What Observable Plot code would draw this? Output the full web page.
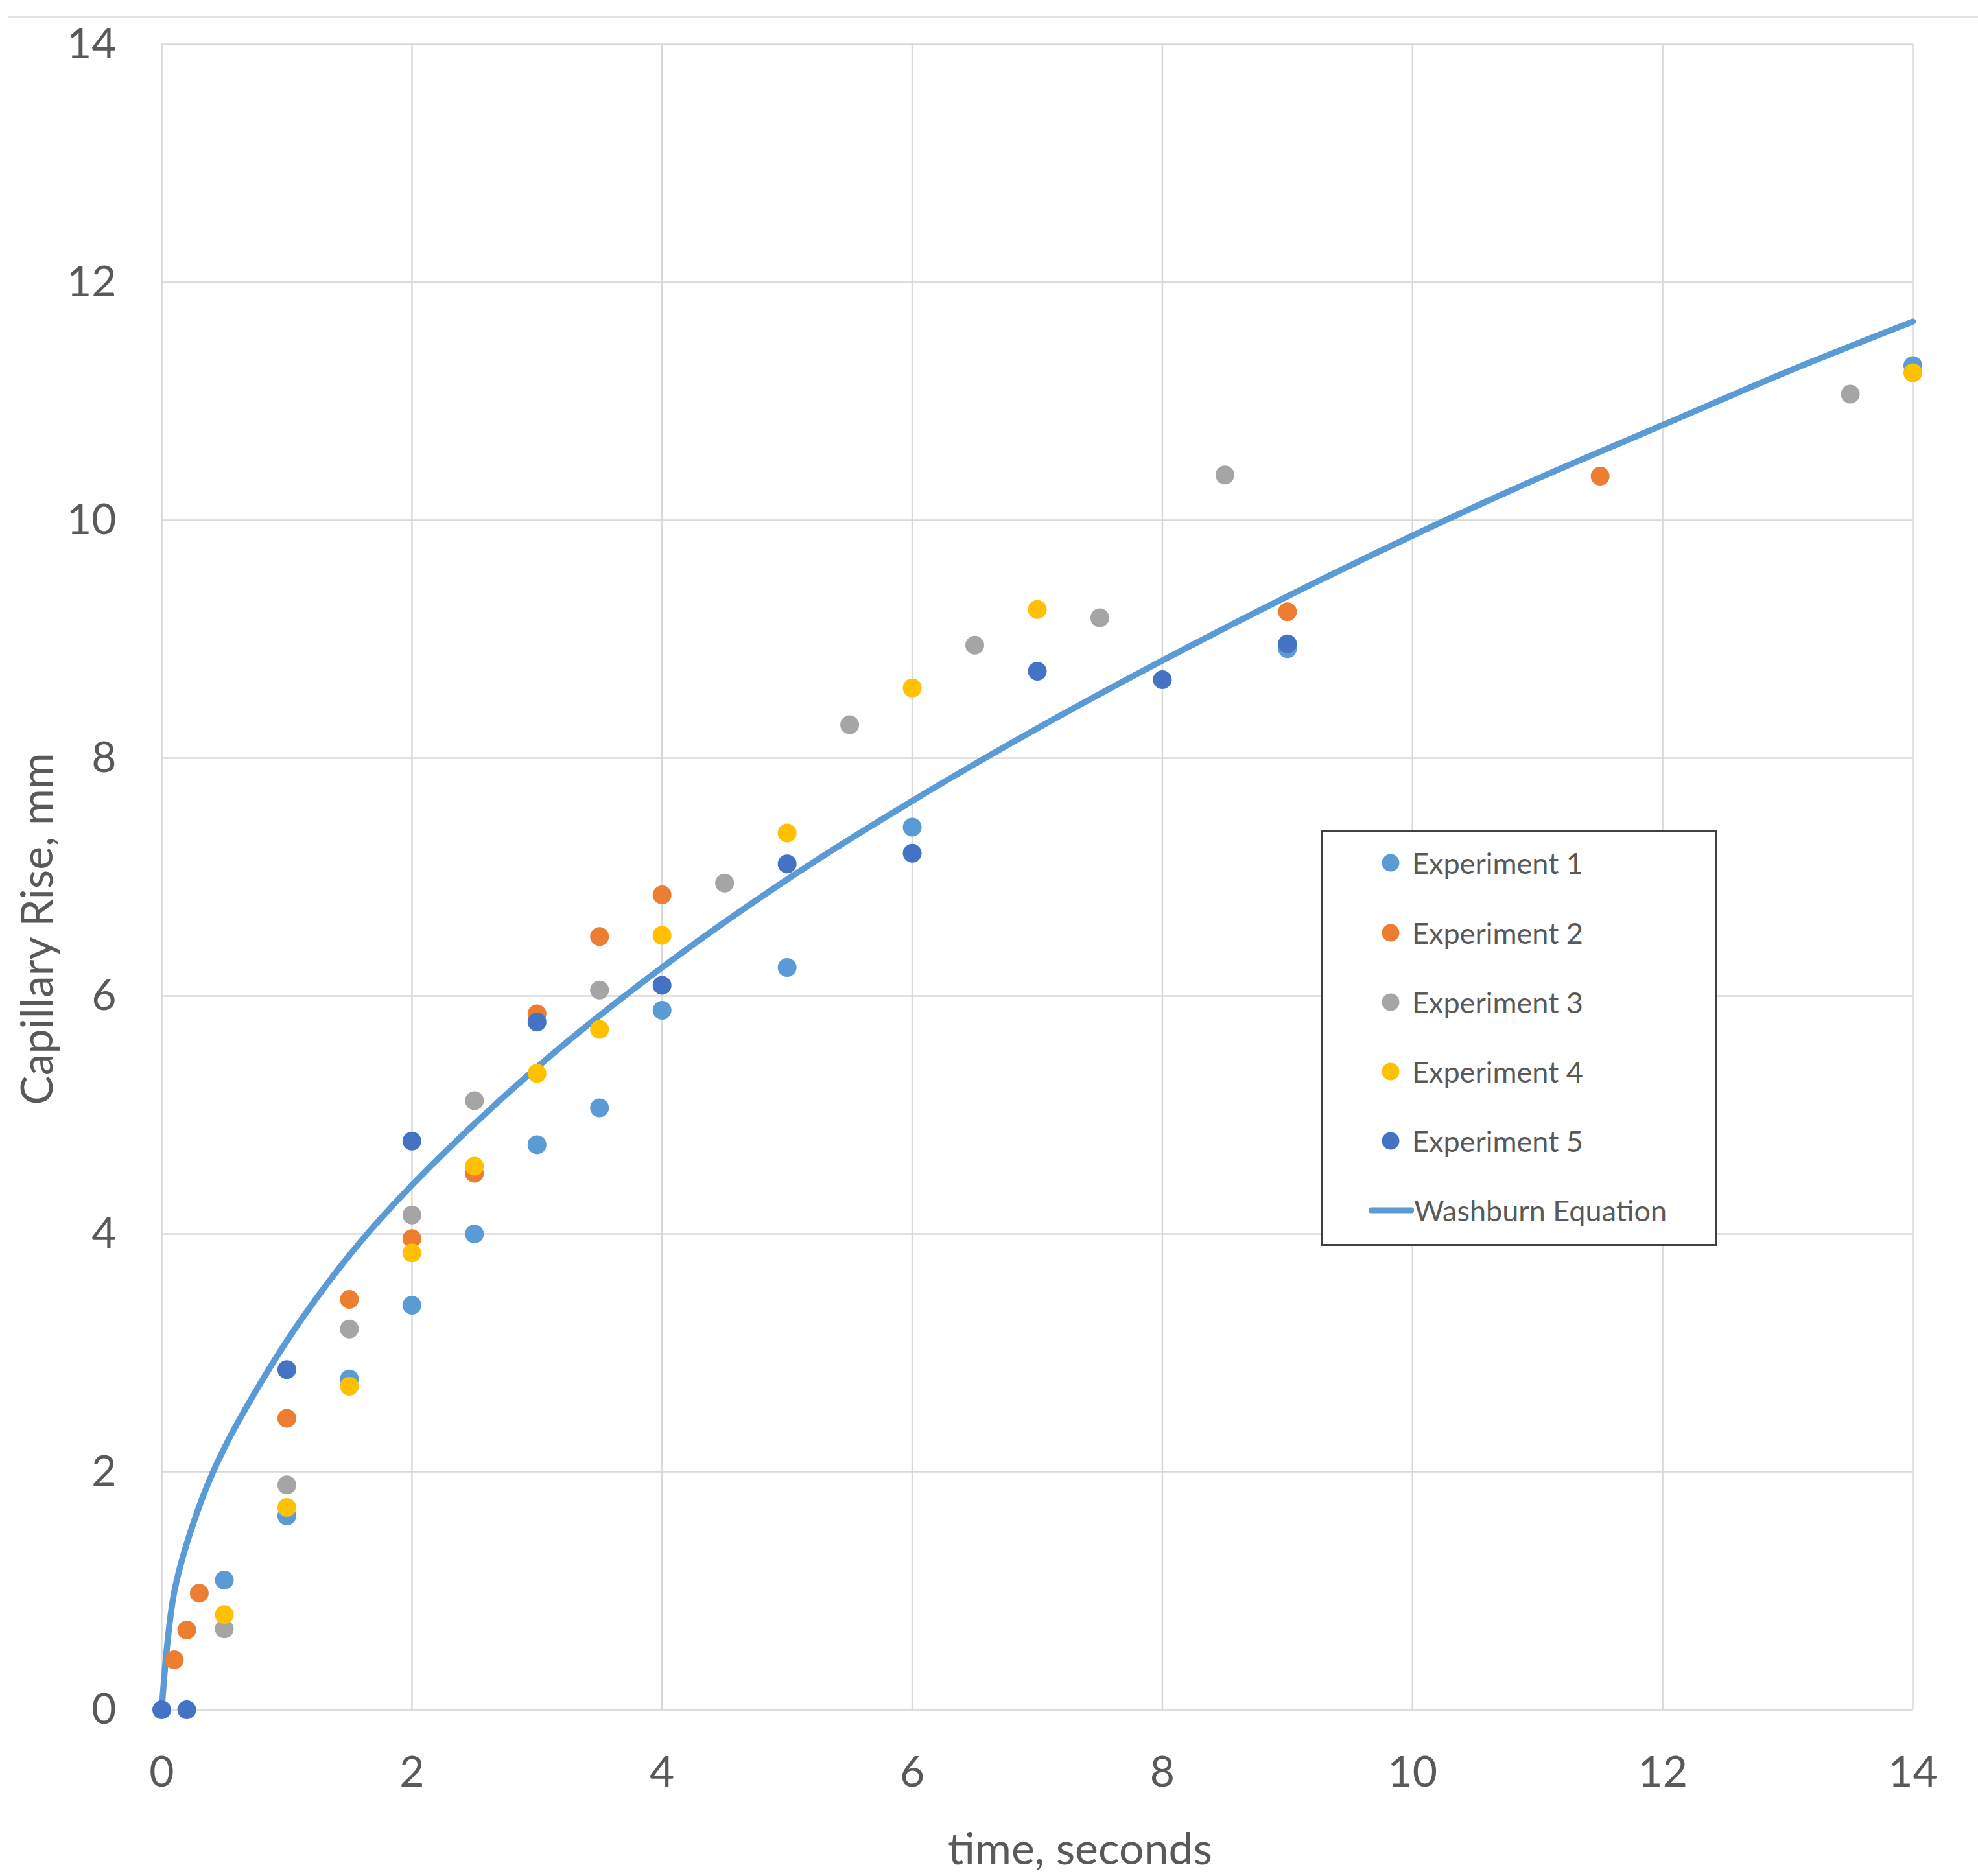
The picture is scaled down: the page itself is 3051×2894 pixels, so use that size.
<!DOCTYPE html>
<html>
<head>
<meta charset="utf-8">
<script src="https://cdn.jsdelivr.net/npm/d3@7"></script>
<script src="https://cdn.jsdelivr.net/npm/@observablehq/plot@0.6"></script>
<style>
  html, body { margin: 0; padding: 0; background: #fff; }
  #wrap { position: relative; width: 3051px; height: 2894px; overflow: hidden; font-family: Lato, "Open Sans", sans-serif; color: #595959; }
  #topline { position: absolute; left: 12px; right: 0; top: 25px; height: 2px; background: #e2e2e2; }
  #chart { position: absolute; left: 0; top: 0; }
  #legend { position: absolute; left: 2037px; top: 1280px; width: 612px; height: 642px; border: 3px solid #404040; background: #fff; box-sizing: border-box; }
  .item { position: absolute; left: 0; height: 60px; display: flex; align-items: center; font-size: 45px; color: #595959; }
  .item svg { display: block; }
</style>
</head>
<body>
<div id="wrap">
  <div id="topline"></div>
  <div id="chart"></div>
  <div id="legend"></div>
</div>
<script>
// ---- data ----
const xTicks = [0, 2, 4, 6, 8, 10, 12, 14];
const yTicks = [0, 2, 4, 6, 8, 10, 12, 14];

const exp1T = [0.5, 1, 1.5, 2, 2.5, 3, 3.5, 4, 5, 6, 9, 14];
const exp1H = [1.09, 1.63, 2.78, 3.40, 4.00, 4.75, 5.06, 5.88, 6.24, 7.42, 8.92, 11.30];

const exp2T = [0.1, 0.2, 0.3, 1, 1.5, 2, 2.5, 3, 3.5, 4, 9, 11.5];
const exp2H = [0.42, 0.67, 0.98, 2.45, 3.45, 3.96, 4.51, 5.85, 6.50, 6.85, 9.23, 10.37];

const exp3T = [0.5, 1, 1.5, 2, 2.5, 3.5, 4.5, 5.5, 6.5, 7.5, 8.5, 13.5];
const exp3H = [0.68, 1.89, 3.20, 4.16, 5.12, 6.05, 6.95, 8.28, 8.95, 9.18, 10.38, 11.06];

const exp4T = [0.5, 1, 1.5, 2, 2.5, 3, 3.5, 4, 5, 6, 7, 14];
const exp4H = [0.80, 1.70, 2.72, 3.84, 4.57, 5.35, 5.72, 6.51, 7.37, 8.59, 9.25, 11.24];

const exp5T = [0, 0.2, 1, 2, 3, 4, 5, 6, 7, 8, 9];
const exp5H = [0, 0, 2.86, 4.78, 5.78, 6.09, 7.11, 7.20, 8.73, 8.66, 8.96];

const washT = [0, 0.1, 0.3, 0.5, 1, 1.5, 2, 3, 4, 5, 6, 7, 8, 9, 10, 11, 12, 13, 14];
const washH = [0, 0.99, 1.71, 2.20, 3.10, 3.82, 4.41, 5.40, 6.24, 6.98, 7.64, 8.25, 8.82, 9.36, 9.87, 10.35, 10.80, 11.25, 11.67];

const seriesNames = ["Experiment 1", "Experiment 2", "Experiment 3", "Experiment 4", "Experiment 5"];
const seriesColors = ["#5B9BD5", "#ED7D31", "#A5A5A5", "#FFC000", "#4472C4"];
const lineName = "Washburn Equation";
const lineColor = "#5B9BD5";

// ---- build tables ----
const expT = [exp1T, exp2T, exp3T, exp4T, exp5T];
const expH = [exp1H, exp2H, exp3H, exp4H, exp5H];
const points = [];
expT.forEach((ts, s) => ts.forEach((t, i) => points.push({series: seriesNames[s], t, h: expH[s][i]})));
const wash = washT.map((t, i) => ({t, h: washH[i]}));

const gridColor = "#D9D9D9";
const textColor = "#595959";
const font = "Lato, 'Open Sans', sans-serif";

const chart = Plot.plot({
  width: 3051,
  height: 2894,
  marginLeft: 249,
  marginRight: 101,
  marginTop: 68,
  marginBottom: 257,
  style: {fontFamily: font, color: textColor, background: "transparent"},
  x: {domain: [0, 14]},
  y: {domain: [0, 14]},
  color: {domain: seriesNames, range: seriesColors},
  marks: [
    Plot.ruleX(xTicks, {stroke: gridColor, strokeWidth: 2.5}),
    Plot.ruleY(yTicks, {stroke: gridColor, strokeWidth: 2.5}),
    Plot.axisX({ticks: xTicks, tickSize: 0, tickPadding: 72, fontSize: 66, label: null, fill: textColor}),
    Plot.axisY({ticks: yTicks, tickSize: 0, tickPadding: 70, fontSize: 66, label: null, fill: textColor}),
    Plot.line(wash, {x: "t", y: "h", stroke: lineColor, strokeWidth: 9.5, curve: "catmull-rom"}),
    Plot.dot(points, {x: "t", y: "h", fill: "series", r: 14.5}),
    Plot.text(["time, seconds"], {frameAnchor: "bottom", dx: 66, dy: 238, fontSize: 68, fill: textColor}),
    Plot.text(["Capillary Rise, mm"], {frameAnchor: "left", textAnchor: "middle", dx: -190, dy: 80, rotate: -90, fontSize: 68, fill: textColor})
  ]
});
document.getElementById("chart").appendChild(chart);

// ---- legend ----
const legend = document.getElementById("legend");
const rowTops = [1328, 1436, 1543, 1650, 1757, 1864];
seriesNames.forEach((name, i) => {
  const d = document.createElement("div");
  d.className = "item";
  d.style.top = (rowTops[i] - 1280 - 30) + "px";
  d.style.left = (2125 - 2037) + "px";
  d.innerHTML = `<svg width="34" height="34" style="margin-right:16px"><circle cx="17" cy="17" r="13.5" fill="${seriesColors[i]}"/></svg><span>${name}</span>`;
  legend.appendChild(d);
});
const dl = document.createElement("div");
dl.className = "item";
dl.style.top = (rowTops[5] - 1280 - 30) + "px";
dl.style.left = (2108 - 2037) + "px";
dl.innerHTML = `<svg width="70" height="20" style="margin-right:0px"><line x1="4" y1="10" x2="66" y2="10" stroke="${lineColor}" stroke-width="9" stroke-linecap="round"/></svg><span>${lineName}</span>`;
legend.appendChild(dl);
</script>
</body>
</html>
